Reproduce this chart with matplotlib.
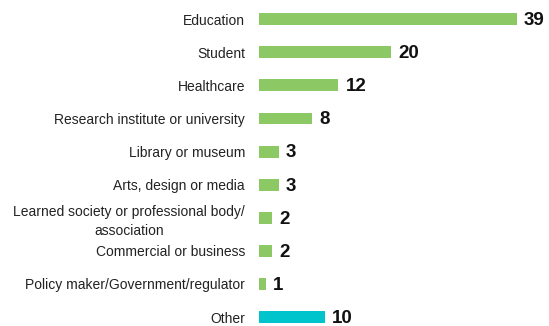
import matplotlib.pyplot as plt

# respondents by sector
categories = ['Education', 'Student', 'Healthcare', 'Research institute or university',
              'Library or museum', 'Arts, design or media',
              'Learned society or professional body/\nassociation',
              'Commercial or business', 'Policy maker/Government/regulator', 'Other']
counts = [39, 20, 12, 8, 3, 3, 2, 2, 1, 10]
green = '#8cc864'
teal = '#00c4cc'
colors = [green] * 9 + [teal]

plt.rcParams['font.family'] = ['Liberation Sans', 'DejaVu Sans']

fig = plt.figure(figsize=(5.49, 3.26), dpi=100)
ax = fig.add_axes([259 / 549, 0, 290 / 549, 1])

y = range(len(categories))
ax.barh(y, counts, height=0.36, color=colors)
ax.set_xlim(0, 290 / 6.62)
ax.set_ylim(9.27, -0.58)

ax.set_yticks(list(y))
ax.set_yticklabels(categories, fontsize=10, color='#222222', ha='right',
                   multialignment='center', linespacing=1.45)
ax.tick_params(axis='y', length=0, pad=10)
ax.set_xticks([])
for s in ax.spines.values():
    s.set_visible(False)

for i, v in enumerate(counts):
    ax.annotate(str(v), (v, i), xytext=(5, -1), textcoords='offset points',
                va='center', ha='left', fontsize=13.5, fontweight='bold', color='#111111')

fig.savefig('out.png', dpi=100)
